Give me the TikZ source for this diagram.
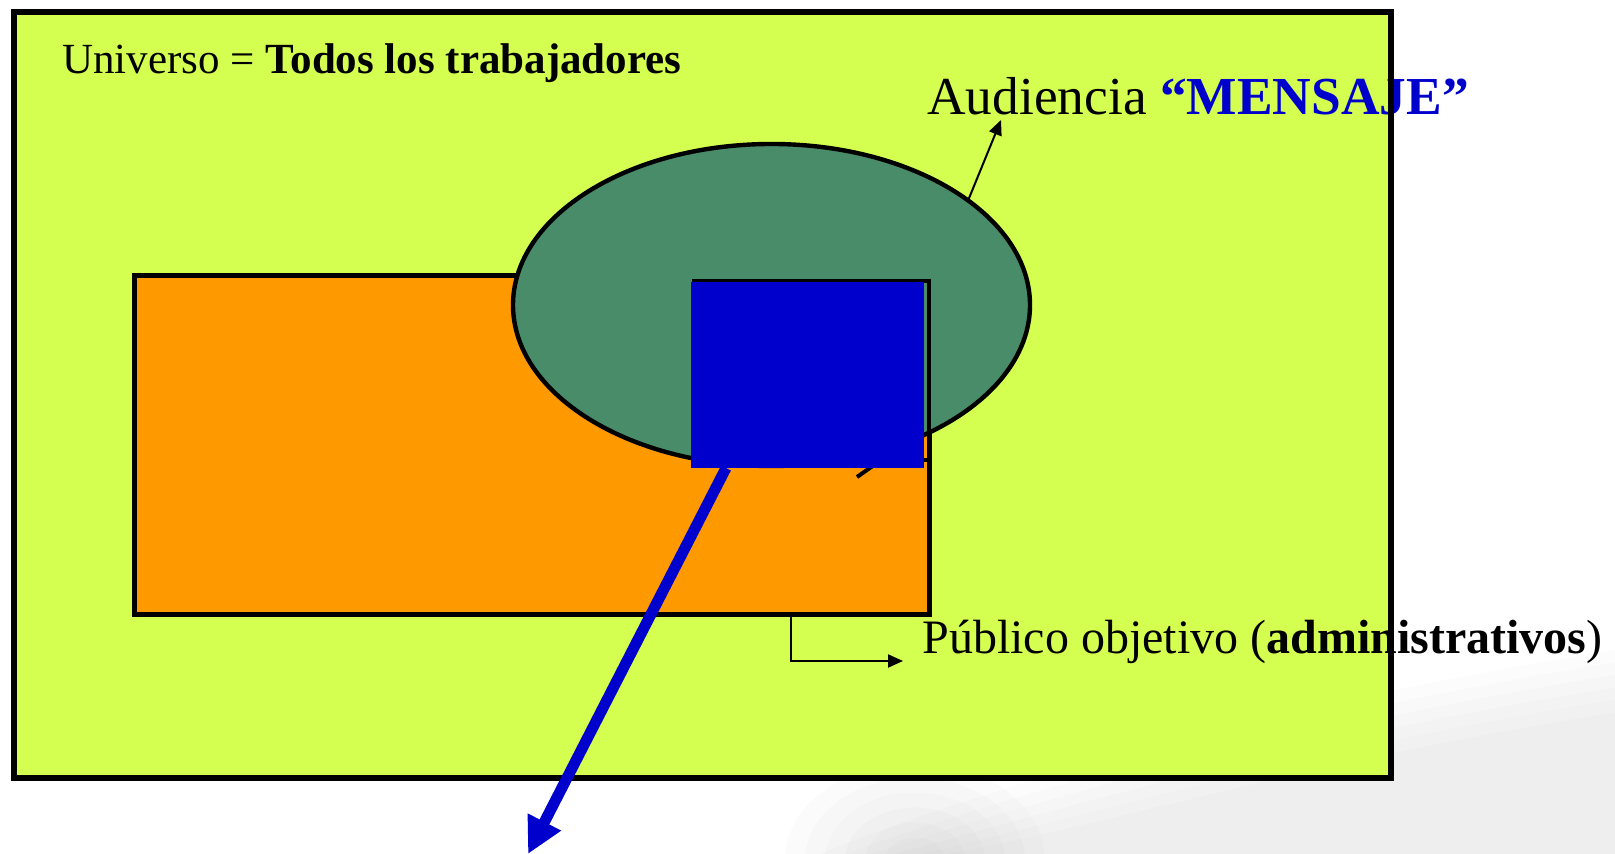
\documentclass[tikz,border=0pt]{standalone}
\usepackage{fontspec}
\setmainfont{Liberation Serif}
\usetikzlibrary{arrows.meta,shapes.geometric}
\definecolor{fondo}{RGB}{212,255,80}
\definecolor{naranja}{RGB}{255,153,0}
\definecolor{verde}{RGB}{72,140,106}
\definecolor{azul}{RGB}{0,0,204}

\begin{document}
\begin{tikzpicture}[x=0.5pt, y=-0.5pt,
    conjunto/.style ={rectangle, inner sep=0pt, outer sep=0pt},
    rotulo/.style ={anchor=base west, inner sep=0pt},
    guia/.style ={line width=1pt, -{Triangle[length=7.5pt,width=6.5pt]}}]
   \useasboundingbox (0,0) rectangle (1615,854);

   % fondo de la diapositiva
   \foreach \d in {0,25,...,125}
     \fill[gray, opacity=0.025] (820+\d,854) .. controls (1000+\d,780+\d/3) and (1300,700+\d/2) .. (1615,650+\d/2) -- (1615,854) -- cycle;
   \foreach \r in {30,50,...,130}
     \fill[gray, opacity=0.03] (915,860) ellipse ({\r} and {0.75*\r});

   \node[conjunto, fill=fondo, minimum width=688.5pt, minimum height=383pt] (universo) at (702.5,395) {};
   \node[conjunto, draw, line width=2.5pt, fill=naranja, minimum width=397.5pt, minimum height=169pt] (publico) at (531.5,445) {};
   \node[ellipse, draw, line width=2.2pt, fill=verde, inner sep=0pt, outer sep=0pt,
         minimum width=258.5pt, minimum height=161pt] (audiencia) at (771.5,305) {};
   \node[conjunto, draw, line width=2pt, minimum width=117.5pt, minimum height=89.5pt] (marco) at (811.5,370.5) {};

   \coordinate (cola) at (857,477);
   \draw[line width=2pt] (cola) -- ++(30,-21);
   \node[conjunto, fill=azul, minimum width=116.5pt, minimum height=93pt] (mensaje) at (807.5,375) {};

   \coordinate (audpunta) at (1001,120);
   \coordinate (pubpie) at (791,614);
   \coordinate (pubpunta) at (903,661);
   \draw[guia] (audiencia.28) -- (audpunta);
   \draw[guia] (pubpie) |- (pubpunta);

   \node[rotulo, font=\fontsize{21.5}{26}\selectfont] (titulo) at (62,74)
        {Universo = \textbf{Todos los trabajadores}};
   \node[rotulo, font=\fontsize{26.7}{32}\selectfont] (audtexto) at (927,115)
        {Audiencia \textcolor{azul}{\textbf{“MENSAJE”}}};
   \node[rotulo, font=\fontsize{24}{29}\selectfont] (pubtexto) at (922,653)
        {Público objetivo (\textbf{administrativos})};

   \draw[line width=2.8pt] (universo.north west) rectangle (universo.south east);

   \coordinate (punta) at (528,854);
   \draw[azul, line width=5.5pt, -{Triangle[length=18pt,width=17.5pt]}] ([xshift=17.5pt]mensaje.south west) -- (punta);
 \end{tikzpicture}
\end{document}
